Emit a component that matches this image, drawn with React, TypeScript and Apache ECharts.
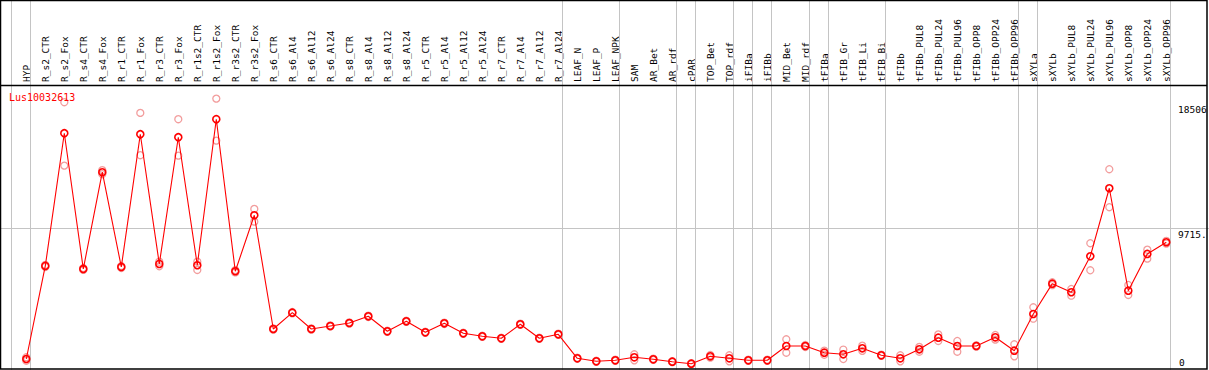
import React, { useEffect, useRef } from "react";
import * as echarts from "echarts";

const MONO = '"DejaVu Sans Mono", "Liberation Mono", monospace';

const geneName = "Lus10032613";

const categories = [
  "HYP", "R_s2_CTR", "R_s2_Fox", "R_s4_CTR", "R_s4_Fox", "R_r1_CTR", "R_r1_Fox", "R_r3_CTR", "R_r3_Fox",
  "R_r1s2_CTR", "R_r1s2_Fox", "R_r3s2_CTR", "R_r3s2_Fox",
  "R_s6_CTR", "R_s6_Al4", "R_s6_Al12", "R_s6_Al24",
  "R_s8_CTR", "R_s8_Al4", "R_s8_Al12", "R_s8_Al24",
  "R_r5_CTR", "R_r5_Al4", "R_r5_Al12", "R_r5_Al24",
  "R_r7_CTR", "R_r7_Al4", "R_r7_Al12", "R_r7_Al24",
  "LEAF_N", "LEAF_P", "LEAF_NPK", "SAM", "AR_Bet", "AR_rdf", "cPAR", "TOP_Bet", "TOP_rdf",
  "iFIBa", "iFIBb", "MID_Bet", "MID_rdf", "tFIBa", "tFIB_Gr", "tFIB_Li", "tFIB_Bi", "tFIBb",
  "tFIBb_PUL8", "tFIBb_PUL24", "tFIBb_PUL96", "tFIBb_OPP8", "tFIBb_OPP24", "tFIBb_OPP96",
  "sXYLa", "sXYLb", "sXYLb_PUL8", "sXYLb_PUL24", "sXYLb_PUL96", "sXYLb_OPP8", "sXYLb_OPP24", "sXYLb_OPP96",
];

// mean expression per sample
const meanValues = [
  809, 7132, 16154, 6928, 13503, 7064, 16086, 7268, 15882, 7180, 17106, 6772, 10579,
  2849, 3957, 2849, 3053, 3257, 3712, 2692, 3372, 2624, 3236, 2556, 2352, 2216, 3168, 2216, 2488,
  857, 653, 721, 925, 789, 626, 490, 993, 857, 721, 721,
  1693, 1693, 1237, 1129, 1537, 1061, 857, 1469, 2257, 1693, 1693, 2284, 1373,
  3869, 5929, 5344, 7792, 12415, 5453, 7948, 8743,
];

// replicate 1
const rep1Values = [
  925, 7200, 18262, 6990, 13640, 7130, 17535, 7424, 17106, 7424, 18506, 6850, 11008,
  2890, 4000, 2890, 3090, 3300, 3760, 2730, 3410, 2660, 3280, 2590, 2390, 2250, 3210, 2250, 2530,
  890, 690, 760, 1129, 830, 660, 530, 1080, 1061, 760, 760,
  2148, 1760, 1373, 1449, 1713, 1100, 1061, 1633, 2481, 2033, 1740, 2441, 1809,
  4324, 6024, 5568, 8676, 13707, 5840, 8240, 8832,
];

// replicate 2
const rep2Values = [
  693, 7064, 13952, 6866, 13366, 6998, 14659, 7112, 14631, 6860, 15651, 6694, 10144,
  2808, 3914, 2808, 3016, 3214, 3664, 2654, 3334, 2588, 3192, 2522, 2314, 2182, 3126, 2182, 2446,
  824, 616, 682, 721, 748, 592, 450, 906, 653, 682, 682,
  1237, 1626, 1101, 809, 1361, 1022, 653, 1305, 2033, 1305, 1646, 2127, 993,
  3549, 5834, 5113, 6840, 11123, 5160, 7629, 8654,
];

// index of the last sample of each group (separators drawn after these)
const groupEnds = [-1, 0, 28, 31, 34, 35, 37, 38, 39, 41, 42, 45, 52, 53, 60];

const yMaxLabel = "18506";
const yMidLabel = "9715.";
const yMinLabel = "0";
const yMidValue = 9715.5;
const yAxisMax = 19431;

export default function App() {
  const ref = useRef<HTMLDivElement>(null);

  useEffect(() => {
    document.body.style.margin = "0";
    if (!ref.current) return;
    const chart = echarts.init(ref.current, null, { renderer: "svg" });

    const grey = "#c4c4c4";
    const option: any = {
      animation: false,
      backgroundColor: "#ffffff",
      title: {
        text: geneName,
        left: 9,
        top: 92,
        padding: 0,
        textStyle: { color: "#ff0000", fontSize: 10, fontWeight: "normal", fontFamily: MONO },
      },
      grid: [
        { left: 16.8, right: 33.2, top: 85, bottom: -0.9, outerBoundsMode: "none" },
        { left: 0, right: 0, top: 0, bottom: 0, outerBoundsMode: "none" },
      ],
      xAxis: [
        {
          type: "category",
          gridIndex: 0,
          data: categories,
          position: "top",
          boundaryGap: true,
          axisLine: { show: false },
          axisTick: { show: false },
          splitLine: { show: false },
          axisLabel: {
            rotate: 90,
            interval: 0,
            margin: 3,
            fontSize: 9.5,
            fontFamily: MONO,
            color: "#000000",
          },
        },
        { type: "value", gridIndex: 1, min: -1.3842, max: 62.2474, show: false },
      ],
      yAxis: [
        { type: "value", gridIndex: 0, min: 0, max: yAxisMax, show: false },
        { type: "value", gridIndex: 1, min: 61.2, max: 25218, show: false },
      ],
      series: [
        {
          type: "line",
          xAxisIndex: 1,
          yAxisIndex: 1,
          data: [[-1, 100]],
          symbol: "none",
          lineStyle: { width: 0, opacity: 0 },
          silent: true,
          z: 1,
          markLine: {
            silent: true,
            animation: false,
            symbol: ["none", "none"],
            label: { show: false },
            emphasis: { disabled: true },
            lineStyle: { color: grey, width: 1, type: "solid" },
            data: [
              ...groupEnds.map((g) => ({ xAxis: g + 0.2 })),
              { yAxis: yMidValue },
            ],
          },
        },
        {
          type: "scatter",
          name: "rep1",
          xAxisIndex: 0,
          yAxisIndex: 0,
          data: rep1Values,
          symbol: "circle",
          symbolSize: 7,
          z: 3,
          itemStyle: { color: "rgba(255,0,0,0)", borderColor: "#ef8585", borderWidth: 1.3 },
          emphasis: { disabled: true },
        },
        {
          type: "scatter",
          name: "rep2",
          xAxisIndex: 0,
          yAxisIndex: 0,
          data: rep2Values,
          symbol: "circle",
          symbolSize: 7,
          z: 3,
          itemStyle: { color: "rgba(255,0,0,0)", borderColor: "#ef8585", borderWidth: 1.3 },
          emphasis: { disabled: true },
        },
        {
          type: "line",
          name: "mean",
          xAxisIndex: 0,
          yAxisIndex: 0,
          data: meanValues,
          symbol: "circle",
          symbolSize: 7,
          showSymbol: true,
          showAllSymbol: true,
          z: 5,
          itemStyle: { color: "rgba(255,0,0,0)", borderColor: "#ff0000", borderWidth: 1.6 },
          lineStyle: { color: "#ff0000", width: 1.1 },
          emphasis: { disabled: true },
        },
      ],
      graphic: [
        {
          type: "text",
          left: 1178,
          top: 104,
          z: 20,
          style: { text: yMaxLabel, font: `9.5px ${MONO}`, fill: "#000" },
        },
        {
          type: "text",
          left: 1178,
          top: 229,
          z: 20,
          style: { text: yMidLabel, font: `9.5px ${MONO}`, fill: "#000" },
        },
        {
          type: "text",
          left: 1179,
          top: 357,
          z: 20,
          style: { text: yMinLabel, font: `9.5px ${MONO}`, fill: "#000" },
        },
        {
          type: "rect",
          z: 30,
          shape: { x: 0.5, y: 0.5, width: 1206.5, height: 368.5 },
          style: { fill: "none", stroke: "#000", lineWidth: 1.5 },
        },
        {
          type: "line",
          z: 30,
          shape: { x1: 0, y1: 85.5, x2: 1207, y2: 85.5 },
          style: { stroke: "#000", lineWidth: 1.5 },
        },
      ],
    };

    chart.setOption(option);
    return () => chart.dispose();
  }, []);

  return <div ref={ref} style={{ width: 1209, height: 370 }} />;
}
